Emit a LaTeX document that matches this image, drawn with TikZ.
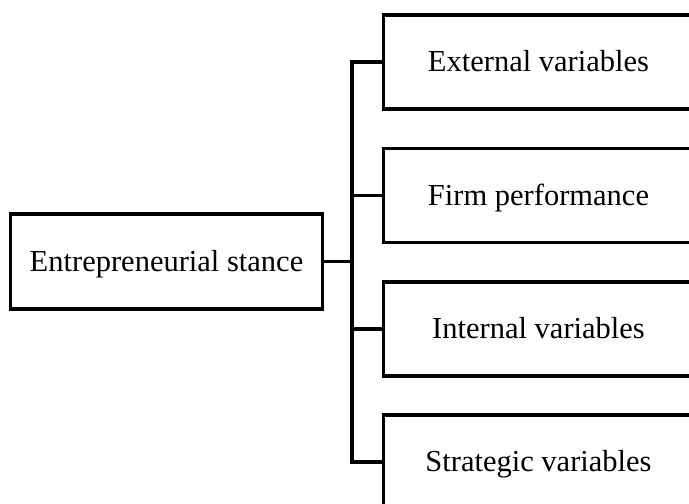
\documentclass[tikz,border=0pt]{standalone}
\usepackage{fontspec}
\setmainfont{Liberation Serif}
\begin{document}
\begin{tikzpicture}[x=1pt,y=-1pt,
  box/.style={draw=black,line width=3.2pt,inner sep=0pt,text height=19pt,text depth=0pt,
    font=\fontsize{30.5}{36}\selectfont},
  leftbox/.style={box,minimum width=312pt,minimum height=95pt},
  rightbox/.style={box,minimum width=310pt,minimum height=94pt},
  conn/.style={line width=3.2pt,line cap=rect}]
\path[use as bounding box,clip] (0,0) rectangle (689,504);
\node[leftbox] (L) at (166.5,261.5) {Entrepreneurial stance};
\node[rightbox] (B1) at (538.5,62) {External variables};
\node[rightbox] (B2) at (538.5,195.5) {Firm performance};
\node[rightbox] (B3) at (538.5,329) {Internal variables};
\node[rightbox] (B4) at (538.5,462) {Strategic variables};
\coordinate (T) at (352,0);
\draw[conn] (L.east) -- (L.east -| T);
\draw[conn] (B1.west -| T) -- (B4.west -| T);
\draw[conn] (B1.west -| T) -- (B1.west);
\draw[conn] (B2.west -| T) -- (B2.west);
\draw[conn] (B3.west -| T) -- (B3.west);
\draw[conn] (B4.west -| T) -- (B4.west);
\end{tikzpicture}
\end{document}
